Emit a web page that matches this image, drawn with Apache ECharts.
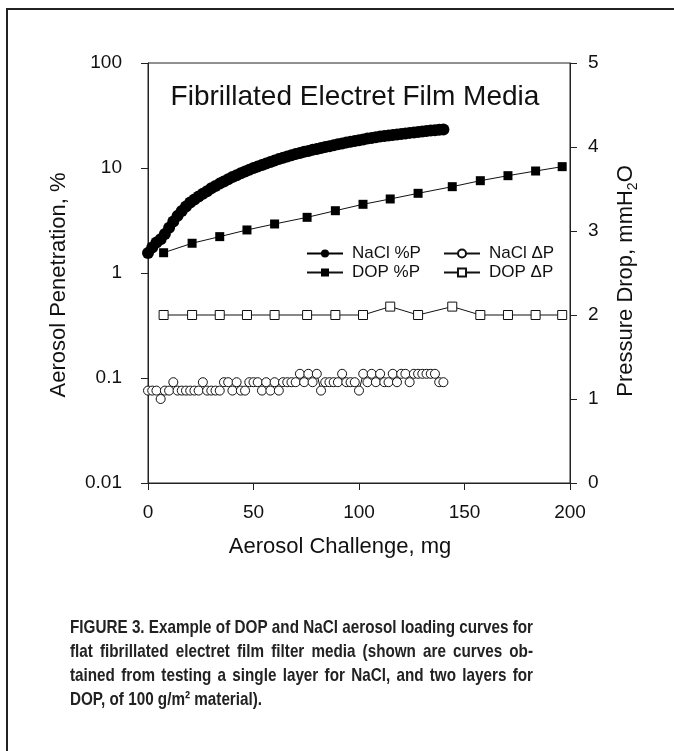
<!DOCTYPE html>
<html><head><meta charset="utf-8">
<script src="https://cdn.jsdelivr.net/npm/echarts@6/dist/echarts.min.js"></script>
<style>html,body{margin:0;padding:0;background:#fff}#c{width:674px;height:751px}</style>
</head><body><div id="c"></div>
<script>
// ---- data ----
const naclMg = [0,2,4,6,8,10,12,14,16,18,20,22,24,26,28,30,32,34,36,38,40,42,44,46,48,50,52,54,56,58,60,62,64,66,68,70,72,74,76,78,80,82,84,86,88,90,92,94,96,98,100,102,104,106,108,110,112,114,116,118,120,122,124,126,128,130,132,134,136,138,140];
const naclPen = [1.55,1.75,1.95,2.1,2.35,2.7,3.1,3.5,3.9,4.3,4.7,5.0,5.35,5.7,6.0,6.4,6.75,7.1,7.45,7.8,8.2,8.55,8.9,9.25,9.6,10.0,10.35,10.7,11.05,11.4,11.8,12.15,12.5,12.9,13.25,13.6,13.9,14.25,14.55,14.9,15.2,15.5,15.85,16.15,16.5,16.8,17.1,17.45,17.75,18.1,18.4,18.7,19.05,19.35,19.6,19.9,20.15,20.4,20.65,20.9,21.1,21.35,21.6,21.8,22.05,22.3,22.5,22.7,22.9,23.1,23.3];
const naclDP = [1.1,1.1,1.1,1.0,1.1,1.1,1.2,1.1,1.1,1.1,1.1,1.1,1.1,1.2,1.1,1.1,1.1,1.1,1.2,1.2,1.1,1.2,1.1,1.1,1.2,1.2,1.2,1.1,1.2,1.1,1.2,1.1,1.2,1.2,1.2,1.2,1.3,1.2,1.3,1.2,1.3,1.1,1.2,1.2,1.2,1.2,1.3,1.2,1.2,1.2,1.1,1.3,1.2,1.3,1.2,1.3,1.2,1.2,1.3,1.2,1.3,1.3,1.2,1.3,1.3,1.3,1.3,1.3,1.3,1.2,1.2];
const dopMg = [7.4,20.9,34.0,46.9,60.0,75.4,88.8,101.9,114.8,128.0,144.2,157.5,170.6,183.7,196.3];
const dopPen = [1.56,1.92,2.22,2.57,2.93,3.39,3.92,4.51,5.07,5.74,6.64,7.57,8.45,9.36,10.3];
const dopDP = [2.0,2.0,2.0,2.0,2.0,2.0,2.0,2.0,2.1,2.0,2.1,2.0,2.0,2.0,2.0];
const xTicks = [0,50,100,150,200];
const penTicks = [0.01,0.1,1,10,100];
const dpTicks = [0,1,2,3,4,5];
const seriesNames = ['NaCl %P','DOP %P','NaCl \u0394P','DOP \u0394P'];
const chartTitle = 'Fibrillated Electret Film Media';
const xName = 'Aerosol Challenge, mg';
const yLeftName = 'Aerosol Penetration, %';
const yRightName = 'Pressure Drop, mmH{s|2}O';
const captionLines = [
  'FIGURE 3. Example of DOP and NaCl aerosol loading curves for',
  'flat fibrillated electret film filter media (shown are curves ob-',
  'tained from testing a single layer for NaCl, and two layers for',
  'DOP, of 100 g/m\u00B2 material).'
];

// ---- build ----
const FF = '"Liberation Sans", Arial, sans-serif';
const pair = (xs, ys) => xs.map((x, i) => [x, ys[i]]);

const CAPSIZE = 18.6;
const ctx = document.createElement('canvas').getContext('2d');
ctx.font = 'bold ' + CAPSIZE + 'px "Liberation Sans Narrow", monospace';
const wN = ctx.measureText('FIGURE abcdefg').width;
ctx.font = 'bold ' + CAPSIZE + 'px monospace';
const wM = ctx.measureText('FIGURE abcdefg').width;
const narrowOK = Math.abs(wN - wM) > 0.5;
const capFam = narrowOK ? '"Liberation Sans Narrow"' : '"Liberation Sans"';
const capScale = narrowOK ? 1 : 0.82;
ctx.font = 'bold ' + CAPSIZE + 'px ' + capFam;

const capLeft = 70, capRight = 533, capTop = 628, capStep = 24;
const captionEls = [];
captionLines.forEach((line, li) => {
  const words = line.split(' ');
  const ws = words.map(w => ctx.measureText(w).width * capScale);
  const sum = ws.reduce((a, b) => a + b, 0);
  const last = li === captionLines.length - 1;
  const gap = last ? ctx.measureText(' ').width * capScale : (capRight - capLeft - sum) / (words.length - 1);
  let x = capLeft;
  words.forEach((w, i) => {
    captionEls.push({
      type: 'text', x: x, y: capTop + li * capStep, scaleX: capScale,
      style: { text: w, fontFamily: capFam, fontWeight: 'bold', fontSize: CAPSIZE, fill: '#222', align: 'left', verticalAlign: 'middle' }
    });
    x += ws[i] + gap;
  });
});

const chart = echarts.init(document.getElementById('c'), null, { renderer: 'canvas' });
const axisCommon = {
  axisLine: { show: true, lineStyle: { color: '#222', width: 1 } },
  axisTick: { show: true, inside: false, length: 7, lineStyle: { color: '#222' } },
  splitLine: { show: false },
  axisLabel: { fontFamily: FF, fontSize: 19, color: '#111' }
};
chart.setOption({
  animation: false,
  backgroundColor: '#fff',
  grid: { left: 148, right: 104, top: 63, bottom: 268, show: true, borderColor: '#222', borderWidth: 1 },
  xAxis: Object.assign({}, axisCommon, {
    type: 'value', min: xTicks[0], max: xTicks[xTicks.length - 1], interval: xTicks[1] - xTicks[0],
    axisLabel: Object.assign({}, axisCommon.axisLabel, { margin: 20 })
  }),
  yAxis: [
    Object.assign({}, axisCommon, {
      type: 'log', logBase: 10, min: penTicks[0], max: penTicks[penTicks.length - 1], splitNumber: penTicks.length - 1,
      axisLabel: Object.assign({}, axisCommon.axisLabel, { margin: 26, formatter: v => String(+v.toPrecision(3)) })
    }),
    Object.assign({}, axisCommon, {
      type: 'value', position: 'right', min: dpTicks[0], max: dpTicks[dpTicks.length - 1], interval: dpTicks[1] - dpTicks[0],
      axisLabel: Object.assign({}, axisCommon.axisLabel, { margin: 18 })
    })
  ],
  legend: [
    { data: [seriesNames[0], seriesNames[1]], orient: 'vertical', left: 301, top: 240, itemWidth: 36, itemHeight: 10, itemGap: 2, selectedMode: false,
      textStyle: { fontFamily: FF, fontSize: 17, color: '#111', padding: [0, 0, 0, 4] } },
    { data: [seriesNames[2], seriesNames[3]], orient: 'vertical', left: 438, top: 240, itemWidth: 36, itemHeight: 10, itemGap: 2, selectedMode: false,
      textStyle: { fontFamily: FF, fontSize: 17, color: '#111', padding: [0, 0, 0, 4] } }
  ],
  series: [
    { name: seriesNames[3], type: 'line', yAxisIndex: 1, data: pair(dopMg, dopDP), symbol: 'rect', symbolSize: 9, showAllSymbol: true,
      lineStyle: { color: '#111', width: 1 }, itemStyle: { color: '#fff', borderColor: '#111', borderWidth: 1 }, z: 2 },
    { name: seriesNames[2], type: 'line', yAxisIndex: 1, data: pair(naclMg, naclDP), symbol: 'circle', symbolSize: 9, showAllSymbol: true,
      lineStyle: { color: '#111', width: 1 }, itemStyle: { color: '#fff', borderColor: '#111', borderWidth: 1 }, z: 3 },
    { name: seriesNames[1], type: 'line', yAxisIndex: 0, data: pair(dopMg, dopPen), symbol: 'rect', symbolSize: 9, showAllSymbol: true,
      lineStyle: { color: '#111', width: 1 }, itemStyle: { color: '#000' }, z: 4 },
    { name: seriesNames[0], type: 'line', yAxisIndex: 0, data: pair(naclMg, naclPen), symbol: 'circle', symbolSize: 12, showAllSymbol: true,
      lineStyle: { color: '#000', width: 1 }, itemStyle: { color: '#000' }, z: 5 }
  ],
  graphic: [
    { type: 'polyline', shape: { points: [[7, 751], [7, 9], [674, 9]] }, style: { stroke: '#222', lineWidth: 2, fill: null } },
    { type: 'text', x: 355, y: 97, style: { text: chartTitle, fontFamily: FF, fontSize: 28, fill: '#111', align: 'center', verticalAlign: 'middle' } },
    { type: 'text', x: 340, y: 547, style: { text: xName, fontFamily: FF, fontSize: 22, fill: '#111', align: 'center', verticalAlign: 'middle' } },
    { type: 'text', x: 59, y: 285, rotation: Math.PI / 2, style: { text: yLeftName, fontFamily: FF, fontSize: 22, fill: '#111', align: 'center', verticalAlign: 'middle' } },
    { type: 'text', x: 626, y: 281, rotation: Math.PI / 2, style: { text: yRightName, fontFamily: FF, fontSize: 22, fill: '#111', align: 'center', verticalAlign: 'middle', lineHeight: 28,
      rich: { s: { fontFamily: FF, fontSize: 14, fill: '#111', verticalAlign: 'bottom', lineHeight: 8 } } } }
  ].concat(captionEls)
});
</script>
</body></html>
